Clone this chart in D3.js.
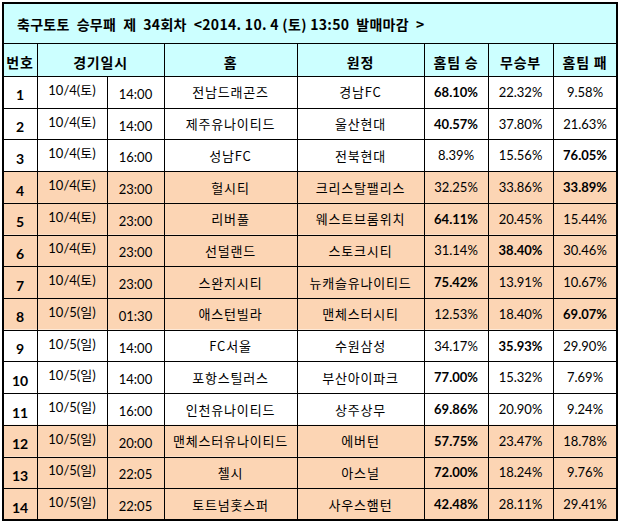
<!DOCTYPE html>
<html>
<head>
<meta charset="utf-8">
<script src="https://cdn.jsdelivr.net/npm/d3@7"></script>
<style>
  body { margin: 0; background: #fff; }
  svg text { font-family: "Lato", "Noto Sans CJK KR", sans-serif; font-size: 13px; fill: #000; }
  svg text.kr { font-family: "Noto Sans CJK KR", sans-serif; letter-spacing: 0.8px; }
</style>
</head>
<body>
<div id="chart"></div>
<script>
const title = "축구토토  승무패  제  34회차  <2014. 10. 4 (토) 13:50  발매마감  >";
const headers = ["번호", "경기일시", "홈", "원정", "홈팀 승", "무승부", "홈팀 패"];
const nums = [1, 2, 3, 4, 5, 6, 7, 8, 9, 10, 11, 12, 13, 14];
const dates = ["10/4(토)", "10/4(토)", "10/4(토)", "10/4(토)", "10/4(토)", "10/4(토)", "10/4(토)",
  "10/5(일)", "10/5(일)", "10/5(일)", "10/5(일)", "10/5(일)", "10/5(일)", "10/5(일)"];
const times = ["14:00", "14:00", "16:00", "23:00", "23:00", "23:00", "23:00",
  "01:30", "14:00", "14:00", "16:00", "20:00", "22:05", "22:05"];
const homes = ["전남드래곤즈", "제주유나이티드", "성남FC", "헐시티", "리버풀", "선덜랜드", "스완지시티",
  "애스턴빌라", "FC서울", "포항스틸러스", "인천유나이티드", "맨체스터유나이티드", "첼시", "토트넘홋스퍼"];
const aways = ["경남FC", "울산현대", "전북현대", "크리스탈팰리스", "웨스트브롬위치", "스토크시티", "뉴캐슬유나이티드",
  "맨체스터시티", "수원삼성", "부산아이파크", "상주상무", "에버턴", "아스널", "사우스햄턴"];
const homeWin = [68.10, 40.57, 8.39, 32.25, 64.11, 31.14, 75.42, 12.53, 34.17, 77.00, 69.86, 57.75, 72.00, 42.48];
const draw = [22.32, 37.80, 15.56, 33.86, 20.45, 38.40, 13.91, 18.40, 35.93, 15.32, 20.90, 23.47, 18.24, 28.11];
const homeLoss = [9.58, 21.63, 76.05, 33.89, 15.44, 30.46, 10.67, 69.07, 29.90, 7.69, 9.24, 18.78, 9.76, 29.41];
const shadedRows = [4, 5, 6, 7, 8, 12, 13, 14];

const width = 623, height = 527;
const tLeft = 3, tRight = 617, tTop = 3, headTop = 43, bodyTop = 76, tBottom = 520;
// column edges: 번호 | 날짜 | 시간 | 홈 | 원정 | 승 | 무 | 패
const edges = [tLeft, 37, 107, 164, 297, 424, 488, 553, tRight];
const cyan = "#ccffff", peach = "#fcd5b4";

const svg = d3.select("#chart").append("svg")
  .attr("width", width)
  .attr("height", height);

const y = d3.scaleBand().domain(nums).range([bodyTop, tBottom]);
const fmt = d3.format(".2f");

// backgrounds
svg.append("rect").attr("x", tLeft).attr("y", tTop)
  .attr("width", tRight - tLeft).attr("height", bodyTop - tTop).attr("fill", cyan);
svg.append("g").selectAll("rect").data(nums).join("rect")
  .attr("x", tLeft).attr("y", (d) => y(d))
  .attr("width", tRight - tLeft).attr("height", y.bandwidth())
  .attr("fill", (d) => shadedRows.includes(d) ? peach : "#fff");

// grid lines
const grid = svg.append("g").attr("stroke", "#000").attr("stroke-width", 1).attr("shape-rendering", "crispEdges");
grid.selectAll("line.h").data([headTop, ...nums.map((d) => y(d))]).join("line")
  .attr("class", "h")
  .attr("x1", tLeft).attr("x2", tRight)
  .attr("y1", (d) => Math.round(d) + 0.5).attr("y2", (d) => Math.round(d) + 0.5);
grid.selectAll("line.v").data(edges.slice(1, -1)).join("line")
  .attr("class", "v")
  .attr("x1", (d) => d + 0.5).attr("x2", (d) => d + 0.5)
  .attr("y1", (d) => d === edges[2] ? bodyTop : headTop)
  .attr("y2", tBottom);
svg.append("rect")
  .attr("x", tLeft).attr("y", tTop)
  .attr("width", tRight - tLeft).attr("height", tBottom - tTop)
  .attr("fill", "none").attr("stroke", "#000").attr("stroke-width", 2);

// title
svg.append("text")
  .attr("class", "kr")
  .attr("x", 17).attr("y", (tTop + headTop) / 2 + 1)
  .attr("dominant-baseline", "central")
  .style("font-size", "14px").style("font-weight", "bold")
  .style("letter-spacing", "0.3px")
  .style("white-space", "pre")
  .text(title);

// headers
const headCols = [[0, 1], [1, 3], [3, 4], [4, 5], [5, 6], [6, 7], [7, 8]];
svg.append("g").selectAll("text").data(headers).join("text")
  .attr("class", "kr")
  .attr("x", (d, i) => (edges[headCols[i][0]] + edges[headCols[i][1]]) / 2)
  .attr("y", (headTop + bodyTop) / 2 + 2)
  .attr("text-anchor", "middle")
  .attr("dominant-baseline", "central")
  .style("font-size", "14px").style("font-weight", "bold")
  .style("white-space", "pre")
  .text((d) => d);

// body cells
const mid = (c) => (edges[c] + edges[c + 1]) / 2;
const rows = svg.append("g").selectAll("g").data(nums).join("g")
  .attr("transform", (d) => `translate(0,${y(d) + y.bandwidth() / 2})`);

rows.append("text").attr("x", mid(0)).attr("y", 3)
  .attr("text-anchor", "middle").attr("dominant-baseline", "central")
  .style("font-weight", "bold").style("font-size", "14px")
  .text((d) => d);
rows.append("text").attr("x", mid(1)).attr("y", -2)
  .attr("text-anchor", "middle").attr("dominant-baseline", "central")
  .text((d, i) => dates[i]);
rows.append("text").attr("x", mid(2)).attr("y", 2)
  .attr("text-anchor", "middle").attr("dominant-baseline", "central")
  .text((d, i) => times[i]);
rows.append("text").attr("class", "kr").attr("x", mid(3)).attr("y", 0)
  .attr("text-anchor", "middle").attr("dominant-baseline", "central")
  .text((d, i) => homes[i]);
rows.append("text").attr("class", "kr").attr("x", mid(4)).attr("y", 0)
  .attr("text-anchor", "middle").attr("dominant-baseline", "central")
  .text((d, i) => aways[i]);

const pctCols = [homeWin, draw, homeLoss];
pctCols.forEach((vals, k) => {
  rows.append("text").attr("x", mid(5 + k)).attr("y", 0)
    .attr("text-anchor", "middle").attr("dominant-baseline", "central")
    .style("font-weight", (d, i) => {
      const best = Math.max(homeWin[i], draw[i], homeLoss[i]);
      return vals[i] === best ? "bold" : "normal";
    })
    .text((d, i) => fmt(vals[i]) + "%");
});
</script>
</body>
</html>
